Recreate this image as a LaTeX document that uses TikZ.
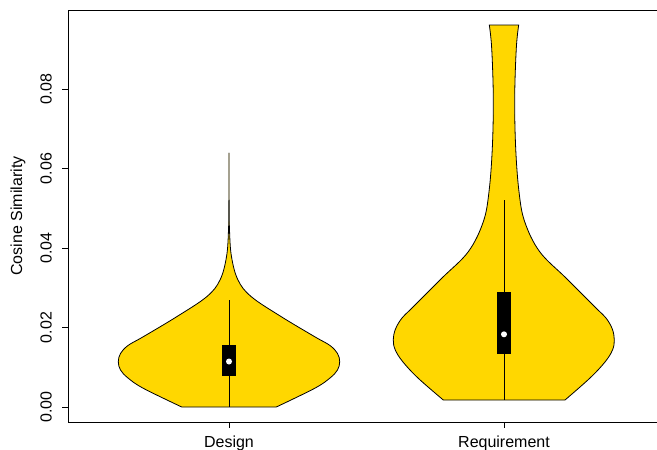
\documentclass[tikz,border=0pt]{standalone}
\usepackage{fontspec}
\setmainfont{Liberation Sans}
\usetikzlibrary{positioning}
\definecolor{oro}{HTML}{FFD700}

\begin{document}
\begin{tikzpicture}[x=1pt,y=-1pt,line width=0.8pt,font=\fontsize{16}{19}\selectfont]
\tikzstyle{violin}=[fill=oro,draw=black,line width=0.8pt,line join=round]
\tikzstyle{caja}=[fill=black,draw=none]
\tikzstyle{mediana}=[fill=white,draw=none]
\tikzstyle{etiqueta}=[inner sep=0pt]
\useasboundingbox (0,0) rectangle (657,450);

% Marco del grafico
\draw (657,10) -- (68,10) -- (68,422) -- (657,422);

% Eje y: marcas y etiquetas
\draw (62,407) -- (68,407);
\draw (62,327.5) -- (68,327.5);
\draw (62,248) -- (68,248);
\draw (62,168.5) -- (68,168.5);
\draw (62,89) -- (68,89);
\node[etiqueta,rotate=90] (y0) at (46,407) {0.00};
\node[etiqueta,rotate=90] (y1) at (46,327.5) {0.02};
\node[etiqueta,rotate=90] (y2) at (46,248) {0.04};
\node[etiqueta,rotate=90] (y3) at (46,168.5) {0.06};
\node[etiqueta,rotate=90] (y4) at (46,89) {0.08};
\node[etiqueta,rotate=90] (ylab) at (18,216) {Cosine Similarity};

% Eje x: marcas y etiquetas
\draw (229,422) -- (229,428);
\draw (504,422) -- (504,428);
\node[etiqueta,anchor=base] (design) at (229,447) {Design};
\node[etiqueta,anchor=base] (req) at (504,447) {Requirement};

% Violin de Design
\begin{scope}[shift={(229,0)}]
\draw[violin] plot[smooth,tension=0.6] coordinates {(-47.3,407) (-85.7,388.3) (-101,378) (-108.5,370) (-110.7,361.7) (-108.5,353.5) (-101,345.5) (-85.7,336.7) (-52.3,316.7) (-22.3,296.7) (-9,280) (-2.5,256.7) (-0.5,230) (-0.1,200) (0,153) (0.1,200) (0.5,230) (2.5,256.7) (9,280) (22.3,296.7) (52.3,316.7) (85.7,336.7) (101,345.5) (108.5,353.5) (110.7,361.7) (108.5,370) (101,378) (85.7,388.3) (47.3,407)} -- cycle;
\draw (0,300) -- (0,407);
\fill[caja] (-7.5,345) rectangle (7,376);
\fill[mediana] (0,361.5) circle (3pt);
\end{scope}

% Violin de Requirement
\begin{scope}[shift={(504,0)}]
\draw[violin] plot[smooth,tension=0.6] coordinates {(-60.7,400) (-85.7,378.3) (-101,362) (-108.7,350) (-110.7,340) (-108.5,329) (-102,318) (-92.3,308.3) (-62.3,278.3) (-35.7,251.7) (-20.7,221.7) (-15,191.7) (-11.7,148.3) (-10.7,98.3) (-12.3,48.3) (-14.7,25)}
 -- plot[smooth,tension=0.6] coordinates {(14.7,25) (12.3,48.3) (10.7,98.3) (11.7,148.3) (15,191.7) (20.7,221.7) (35.7,251.7) (62.3,278.3) (92.3,308.3) (102,318) (108.3,329) (110.3,340) (108.5,350) (101,362) (85.7,378.3) (61,400)} -- cycle;
\draw (0,200) -- (0,400);
\fill[caja] (-7.3,292) rectangle (7.3,354);
\fill[mediana] (0,334.3) circle (3pt);
\end{scope}
\end{tikzpicture}
\end{document}
